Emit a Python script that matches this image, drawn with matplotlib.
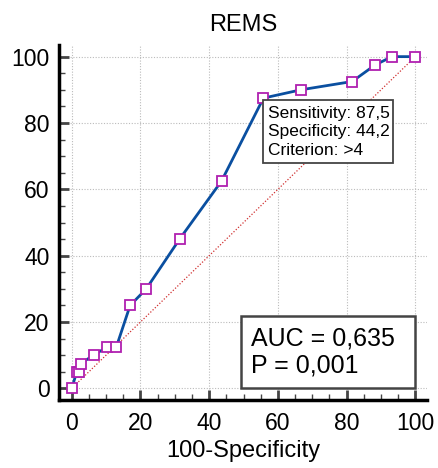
import matplotlib
matplotlib.use('Agg')
import matplotlib.pyplot as plt
import matplotlib.patches as patches
from matplotlib.ticker import MultipleLocator

plt.rcParams['font.family'] = ['Liberation Sans', 'DejaVu Sans']

# ROC curve points (100-Specificity, Sensitivity)
fpr = [0, 1.5, 2.1, 2.6, 6.4, 10.3, 13.0, 17.0, 21.7, 31.4, 43.6, 55.8, 66.7, 81.6, 88.3, 93.2, 100]
tpr = [0, 5.0, 5.0, 7.5, 10.0, 12.5, 12.5, 25.0, 30.0, 45.0, 62.5, 87.5, 90.0, 92.5, 97.5, 100, 100]

title = "REMS"
xlabel = "100-Specificity"
cut_text = "Sensitivity: 87,5\nSpecificity: 44,2\nCriterion: >4"
auc_text = "AUC = 0,635\nP = 0,001"

fig = plt.figure(figsize=(4.38, 4.68), dpi=100)
ax = fig.add_axes([0.1354, 0.1453, 0.8396, 0.7585])

ax.set_xlim(-3.6, 103.4)
ax.set_ylim(-3.5, 103.5)

# grid
ax.xaxis.set_major_locator(MultipleLocator(20))
ax.yaxis.set_major_locator(MultipleLocator(20))
ax.xaxis.set_minor_locator(MultipleLocator(5))
ax.yaxis.set_minor_locator(MultipleLocator(5))
ax.grid(True, which='major', color='#bbbbbb', linestyle=(0, (1, 1.5)), linewidth=0.8)
ax.set_axisbelow(True)

# chance line
ax.plot([0, 100], [0, 100], color='#d03030', linestyle=(0, (1, 1.5)), linewidth=0.9, zorder=2)

# ROC curve
ax.plot(fpr, tpr, color='#0a4fa0', linewidth=2, marker='s', markersize=7.5,
        markerfacecolor='white', markeredgecolor='#b020b0', markeredgewidth=1.3, zorder=3)

for s in ['top', 'right']:
    ax.spines[s].set_visible(False)
for s in ['left', 'bottom']:
    ax.spines[s].set_linewidth(2.5)
    ax.spines[s].set_color('black')

ax.tick_params(which='major', direction='in', length=7, width=2, color='#444444', labelsize=16.5, pad=7)
ax.tick_params(which='minor', direction='in', length=4, width=1, color='#444444')
ax.tick_params(axis='x', which='major', pad=9)

ax.set_title(title, fontsize=17, pad=10)
ax.set_xlabel(xlabel, fontsize=17, labelpad=3)

# cut-off annotation box
ax.add_patch(patches.Rectangle((55.7, 68.0), 37.9, 19.0, facecolor='white', edgecolor='#444444',
                               linewidth=1.3, zorder=5))
ax.text(57.2, 77.3, cut_text, fontsize=12.5, ha='left', va='center', linespacing=1.28, zorder=6)

# AUC box
ax.add_patch(patches.Rectangle((49.3, 0.1), 50.7, 21.7, facecolor='white', edgecolor='#444444',
                               linewidth=1.8, zorder=5))
ax.text(52.3, 11.0, auc_text, fontsize=18, ha='left', va='center', linespacing=1.15, zorder=6)

fig.savefig('out.png', dpi=100)
